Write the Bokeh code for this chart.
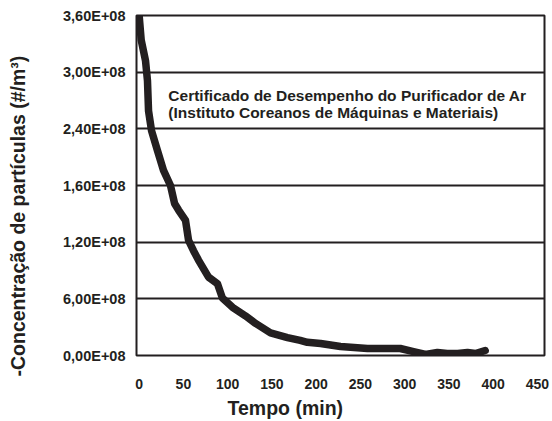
from bokeh.plotting import figure
from bokeh.models import FixedTicker, Range1d, Label, Title, LinearAxis
from bokeh.embed import file_html
from bokeh.resources import INLINE

# Data (time in minutes, particle concentration in #/m3)
tempo = [0, 2.3, 7.2, 9.4, 10.6, 14, 20.7, 27.5, 35.4, 40, 44.5, 52.4, 55.8, 61.4, 67,
         78.4, 88.5, 94, 105.5, 120, 131.5, 148.4, 167.6, 182, 190, 205, 227.5, 258,
         295, 310, 323.6, 337, 348, 360, 371, 380, 391]
concentracao = [3.60e8, 3.34e8, 3.12e8, 2.91e8, 2.59e8, 2.38e8, 2.17e8, 1.96e8, 1.80e8,
                1.61e8, 1.54e8, 1.43e8, 1.22e8, 1.11e8, 1.01e8, 0.83e8, 0.76e8, 0.61e8,
                0.51e8, 0.42e8, 0.34e8, 0.24e8, 0.19e8, 0.16e8, 0.14e8, 0.127e8, 0.095e8,
                0.074e8, 0.074e8, 0.042e8, 0.011e8, 0.032e8, 0.021e8, 0.021e8, 0.032e8,
                0.021e8, 0.053e8]

x_ticks = [0, 50, 100, 150, 200, 250, 300, 350, 400, 450]
y_ticks = [0, 60000000, 120000000, 180000000, 240000000, 300000000, 360000000]
y_tick_labels = ["0,00E+08", "6,00E+08", "1,20E+08", "1,60E+08", "2,40E+08", "3,00E+08", "3,60E+08"]

x_title = "Tempo (min)"
y_title = "-Concentração de partículas (#/m³)"
note_lines = ["Certificado de Desempenho do Purificador de Ar",
              "(Instituto Coreanos de Máquinas e Materiais)"]

FONT = "Liberation Sans"
DARK = "#231f20"

p = figure(width=552, height=421, output_backend="svg", toolbar_location=None,
           x_range=Range1d(-3, 458), y_range=Range1d(0, 3.6e8),
           min_border_left=136, min_border_right=8, min_border_top=15, min_border_bottom=66)

p.line(tempo, concentracao, line_width=7.5, line_color=DARK, line_join="round", line_cap="round")

p.xaxis.ticker = FixedTicker(ticks=x_ticks)
p.yaxis.ticker = FixedTicker(ticks=y_ticks)
p.yaxis.major_label_overrides = {t: l for t, l in zip(y_ticks, y_tick_labels)}

for ax in (p.xaxis[0], p.yaxis[0]):
    ax.major_tick_line_color = None
    ax.minor_tick_line_color = None
    ax.axis_line_color = None
    ax.major_label_text_font = FONT
    ax.major_label_text_font_style = "bold"
    ax.major_label_text_color = DARK

p.xaxis.major_label_text_font_size = "14px"
p.yaxis.major_label_text_font_size = "14.5px"
p.xaxis.major_label_standoff = 17
p.yaxis.major_label_standoff = 5

p.xgrid.grid_line_color = None
p.ygrid.grid_line_color = DARK
p.ygrid.grid_line_width = 2

p.outline_line_color = DARK
p.outline_line_width = 2
p.background_fill_color = "white"
p.border_fill_color = "white"


def spacer(size, at):
    # blank axis (white tick, empty label) used only to reserve room before the axis title
    return LinearAxis(ticker=FixedTicker(ticks=[at]), major_label_overrides={at: ""},
                      major_tick_out=size, major_tick_in=0, major_label_standoff=0,
                      major_tick_line_color="white", minor_tick_line_color=None,
                      axis_line_color=None)


p.add_layout(spacer(30, 0), "left")
p.add_layout(spacer(5, 0), "below")

p.add_layout(Title(text=y_title, align="left", offset=-21, vertical_align="top", standoff=0,
                   text_font=FONT, text_font_style="bold", text_font_size="19.5px",
                   text_color=DARK), "left")
p.add_layout(Title(text=x_title, align="left", offset=91, vertical_align="top", standoff=0,
                   text_font=FONT, text_font_style="bold", text_font_size="19.5px",
                   text_color=DARK), "below")

p.add_layout(Label(x=33, y=2.75e8, text=note_lines[0],
                   text_font=FONT, text_font_style="bold", text_font_size="15.5px",
                   text_color=DARK, text_baseline="middle"))
p.add_layout(Label(x=33, y=2.57e8, text=note_lines[1],
                   text_font=FONT, text_font_style="bold", text_font_size="15.5px",
                   text_color=DARK, text_baseline="middle"))

open("out.html", "w").write(file_html(p, INLINE))
